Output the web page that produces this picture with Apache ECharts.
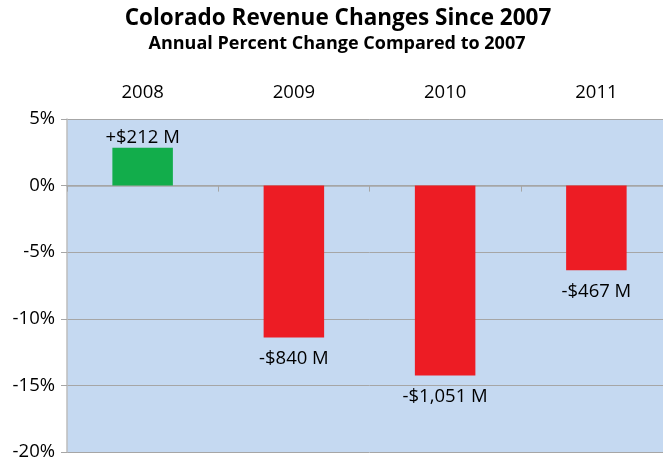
<!DOCTYPE html>
<html>
<head>
<meta charset="utf-8">
<script src="https://cdn.jsdelivr.net/npm/echarts@6/dist/echarts.min.js"></script>
<style>
  html, body { margin: 0; padding: 0; overflow: hidden; background: #fff; }
  #main { width: 672px; height: 463px; }
</style>
</head>
<body>
<div id="main"></div>
<script>
// chart data
const years = ['2008', '2009', '2010', '2011'];
const pctChange = [2.85, -11.4, -14.25, -6.35];
const dollarLabels = ['+$212 M', '-$840 M', '-$1,051 M', '-$467 M'];
const yTicks = { min: -20, max: 5, interval: 5 };

const font = 'Open Sans';
const gridColor = '#a6a6a6';

let myChart = echarts.init(document.getElementById('main'));

let option = {
  backgroundColor: '#fff',
  animation: false,
  title: [
    {
      text: 'Colorado Revenue Changes Since 2007',
      left: 333,
      textAlign: 'center',
      top: 2,
      textStyle: { fontFamily: font, fontSize: 22.5, fontWeight: 'bold', color: '#000' },
    },
    {
      text: 'Annual Percent Change Compared to 2007',
      left: 332,
      textAlign: 'center',
      top: 30,
      textStyle: { fontFamily: font, fontSize: 18, fontWeight: 'bold', color: '#000' },
    },
  ],
  grid: {
    left: 67,
    right: 0,
    top: 119,
    bottom: 11,
    show: true,
    backgroundColor: '#c5d9f1',
    borderWidth: 0,
  },
  xAxis: [
    {
      type: 'category',
      data: years,
      position: 'bottom',
      axisLine: { onZero: true, lineStyle: { color: gridColor, width: 1.5 } },
      axisTick: { show: true, length: 6, lineStyle: { color: gridColor } },
      axisLabel: { show: false },
    },
    {
      type: 'category',
      data: years,
      position: 'top',
      axisLine: { show: false },
      axisTick: { show: false },
      axisLabel: { margin: 17, fontFamily: font, fontSize: 18.5, color: '#000' },
    },
  ],
  yAxis: {
    type: 'value',
    min: yTicks.min,
    max: yTicks.max,
    interval: yTicks.interval,
    axisLine: { show: true, lineStyle: { color: '#bdbdbd', width: 1.5 } },
    axisTick: { show: true, length: 6, lineStyle: { color: gridColor } },
    axisLabel: {
      margin: 12,
      fontFamily: font,
      fontSize: 18.5,
      color: '#000',
      formatter: (v) => v + '%',
    },
    splitLine: { show: true, lineStyle: { color: gridColor, width: 1 } },
  },
  series: [
    {
      type: 'bar',
      xAxisIndex: 0,
      barWidth: '40%',
      data: pctChange.map((v, i) => ({
        value: v,
        itemStyle: { color: v >= 0 ? '#12ad4b' : '#ed1c24' },
        label: { distance: v >= 0 ? 0 : 12 },
      })),
      label: {
        show: true,
        position: 'outside',
        fontFamily: font,
        fontSize: 18.5,
        color: '#000',
        formatter: (p) => dollarLabels[p.dataIndex],
      },
    },
  ],
};

option && myChart.setOption(option);
</script>
</body>
</html>
